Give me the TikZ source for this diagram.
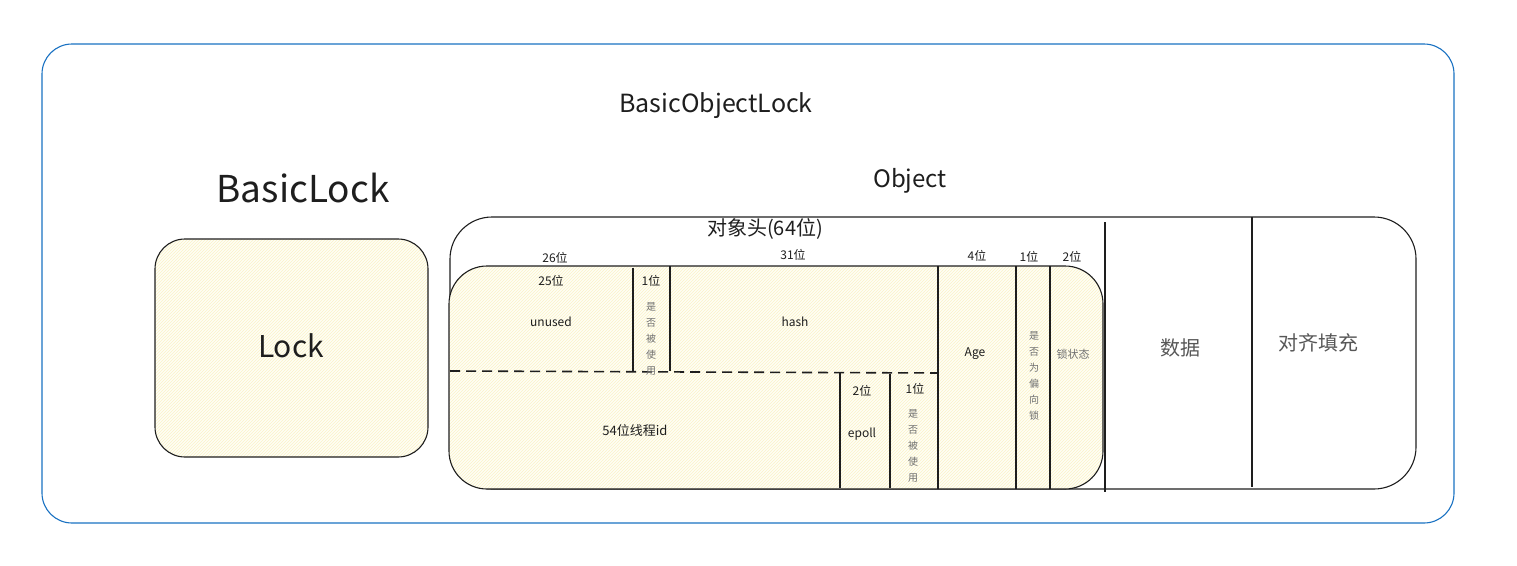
\documentclass[tikz,border=0pt]{standalone}
\usepackage{fontspec}
\setmainfont{Noto Sans CJK SC}
\usetikzlibrary{patterns}
\definecolor{frameBlue}{HTML}{1971C2}
\definecolor{inkBlack}{HTML}{1E1E1E}
\definecolor{inkGrey}{HTML}{707070}
\definecolor{paleYellow}{HTML}{FFFEF5}
\definecolor{hatchYellow}{HTML}{FBF3C8}

\begin{document}
\begin{tikzpicture}[
  x=1pt, y=-1pt,
  every node/.style={text=inkBlack, inner sep=0pt},
  frame/.style={draw=frameBlue, line width=1.1pt, rounded corners=30pt},
  sketch/.style={draw=inkBlack, line width=1.1pt},
  hatched/.style={sketch, preaction={fill=paleYellow},
                  preaction={pattern=north east lines, pattern color=hatchYellow}},
  divider/.style={draw=inkBlack, line width=1.1pt},
  halfline/.style={divider, line width=1.6pt, dash pattern=on 10pt off 6pt},
  bigtitle/.style={font=\fontsize{37}{40}\selectfont},
  title/.style={font=\fontsize{25}{28}\selectfont},
  bits/.style={font=\fontsize{12}{14}\selectfont},
  label/.style={font=\fontsize{12}{14}\selectfont},
  vtext/.style={align=center, text=inkGrey, font=\fontsize{10}{16}\selectfont},
  part/.style={font=\fontsize{20}{24}\selectfont, text=inkGrey!70!inkBlack}
]
\useasboundingbox (0,0) rectangle (1517,565);

% outer frame
\draw[frame] (42,44) rectangle (1454,523);
\node[title] (bol) at (716,106) {BasicObjectLock};

% BasicLock
\node[bigtitle] (blTitle) at (303,188) {BasicLock};
\draw[hatched, rounded corners=30pt] (155,239) rectangle (428,457);
\node[font=\fontsize{30}{34}\selectfont] (lock) at (291,346) {Lock};

% Object
\node[font=\fontsize{24}{28}\selectfont] (objTitle) at (910,181) {Object};
\draw[sketch, rounded corners=42pt] (450,217) rectangle (1416,489);
\node[font=\fontsize{20}{24}\selectfont] (header) at (765,229) {对象头(64位)};

% mark word
\draw[hatched, rounded corners=38pt] (449,266) rectangle (1103,489);
\draw[halfline] (450,371) -- (938,373);
\draw[divider] (633,268) -- (633,372);
\draw[divider] (670,266) -- (670,371);
\draw[divider] (840,373) -- (840,488);
\draw[divider] (890,374) -- (890,488);
\draw[divider] (938,266) -- (938,489);
\draw[divider] (1016,266) -- (1016,489);
\draw[divider] (1050,266) -- (1050,489);
\draw[divider] (1105,222) -- (1105,492);
\draw[divider] (1252,217) -- (1252,487);

% bit widths
\node[bits] (b26) at (555,258) {26位};
\node[bits] (b31) at (793,255) {31位};
\node[bits] (b4) at (977,256) {4位};
\node[bits] (b1a) at (1029,257) {1位};
\node[bits] (b2a) at (1072,257) {2位};
\node[bits] (b25) at (551,281) {25位};
\node[bits] (b1b) at (651,281) {1位};
\node[bits] (b2b) at (862,391) {2位};
\node[bits] (b1c) at (915,389) {1位};

% fields
\node[label] (unused) at (551,322) {unused};
\node[vtext, anchor=north] (used1) at (651,302) {是\\否\\被\\使\\用};
\node[label] (hash) at (795,322) {hash};
\node[label, font=\fontsize{13}{15}\selectfont] (tid) at (635,430) {54位线程id};
\node[label] (epoll) at (862,434) {epoll};
\node[vtext, anchor=north] (used2) at (913,409) {是\\否\\被\\使\\用};
\node[label] (age) at (975,354) {Age};
\node[vtext, anchor=north] (biased) at (1034,331) {是\\否\\为\\偏\\向\\锁};
\node[vtext, font=\fontsize{11}{13}\selectfont] (state) at (1073,354) {锁状态};

% data and padding
\node[part] (data) at (1180,348) {数据};
\node[part] (pad) at (1318,343) {对齐填充};
\end{tikzpicture}
\end{document}
